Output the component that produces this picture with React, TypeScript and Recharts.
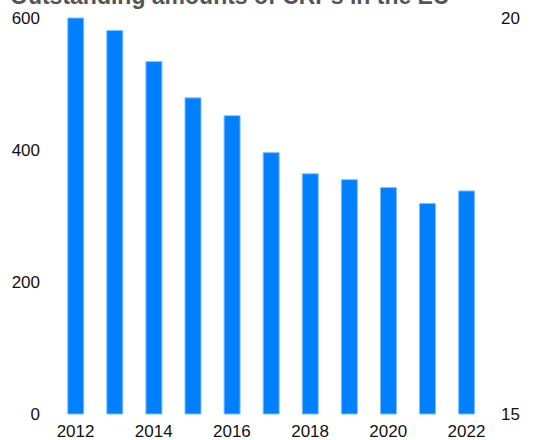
import React from "react";
import { ComposedChart, Bar, Line, XAxis, YAxis } from "recharts";

const years = ["2012","2013","2014","2015","2016","2017","2018","2019","2020","2021","2022"];
const amounts = [600, 581, 534, 479, 452, 396, 364, 355, 343, 319, 338];
const leftTicks = [0, 200, 400, 600];
const rightTicks = [15, 20];
const xTicks = ["2012","2014","2016","2018","2020","2022"];
const title = "Outstanding amounts of CRPs in the EU";

const data = years.map((y, i) => ({ year: y, value: amounts[i] }));

export default function App() {
  const font = { fontFamily: "'Liberation Sans', Arial, sans-serif", fontSize: 17, fill: "#111" };
  return (
    <div style={{ position: "absolute", left: 0, top: 0, width: 535, height: 440, background: "#fff", overflow: "hidden" }}>
      <div style={{ position: "absolute", left: 10, top: -17, fontFamily: "'Liberation Sans', Arial, sans-serif", fontWeight: "bold", fontSize: 23, color: "#555", whiteSpace: "nowrap" }}>{title}</div>
      <ComposedChart width={535} height={440} data={data} margin={{ top: 18, right: 0, bottom: 0, left: 0 }} barCategoryGap="30%">
        <XAxis dataKey="year" ticks={xTicks} interval={0} axisLine={false} tickLine={false} height={26} tickMargin={5} tick={font} />
        <YAxis yAxisId="left" orientation="left" domain={[0, 600]} ticks={leftTicks} axisLine={false} tickLine={false} width={56} tickMargin={10} tick={font} />
        <YAxis yAxisId="right" orientation="right" type="number" domain={[15, 20]} allowDataOverflow ticks={rightTicks} axisLine={false} tickLine={false} width={49} tickMargin={9} tick={font} />
        <Bar yAxisId="left" dataKey="value" fill="#0080FF" stroke="#7fbfff" strokeWidth={1} isAnimationActive={false} />
        <Line yAxisId="right" dataKey="none" stroke="none" dot={false} activeDot={false} legendType="none" isAnimationActive={false} />
      </ComposedChart>
    </div>
  );
}
